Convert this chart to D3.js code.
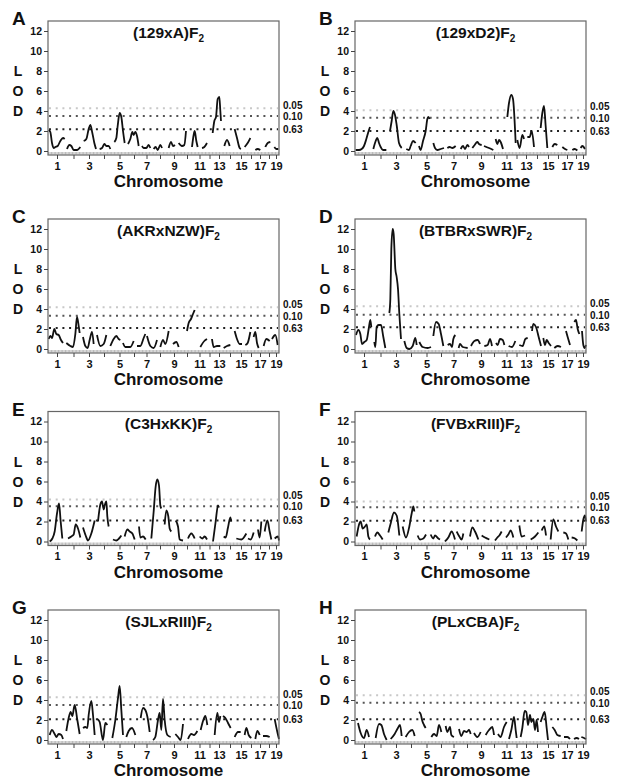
<!DOCTYPE html>
<html>
<head>
<meta charset="utf-8">
<script src="https://cdn.jsdelivr.net/npm/d3@7"></script>
<style>
  body { margin: 0; background: #fff; }
  text { font-family: "Liberation Sans", Arial, sans-serif; font-weight: bold; fill: #111; }
</style>
</head>
<body>
<div id="chart"></div>
<script>
// chromosome names and map lengths (map units)
var chromNames = ["1","2","3","4","5","6","7","8","9","10","11","12","13","14","15","16","17","18","19"];
var chromLengths = [54,45,48,42,51,36,39,42,42,36,39,21,36,30,36,24,30,24,18];

var letters = ["A","B","C","D","E","F","G","H"];
var crosses = ["(129xA)","(129xD2)","(AKRxNZW)","(BTBRxSWR)","(C3HxKK)","(FVBxRIII)","(SJLxRIII)","(PLxCBA)"];
var yTicks = [0,2,4,6,8,10,12];

// genome-wide significance thresholds (LOD) for p = 0.05, 0.10, 0.63
var thr05 = [4.27,4.07,4.17,4.27,4.2,4.0,4.27,4.47];
var thr10 = [3.5,3.33,3.33,3.43,3.53,3.43,3.5,3.73];
var thr63 = [2.17,2.0,2.1,2.17,2.1,2.07,2.07,2.07];

// LOD curves: one array per chromosome segment, [map position, LOD]
var lodA = [
  [[2,2.1],[7,1.9],[12,0.8],[17,0.3],[22,0.4],[29,0.5],[37,1.0],[45,1.3],[50,1.2]],
  [[57,0.2],[64,0.6],[70,0.5],[77,0.1],[87,0.1],[97,0.4]],
  [[107,1.0],[115,1.2],[122,2.2],[127,2.6],[133,1.8],[139,0.8],[144,0.2]],
  [[155,0.2],[162,0.3],[169,0.7],[175,0.5],[182,0.5],[187,0.2]],
  [[199,0.9],[205,1.3],[209,2.5],[215,3.8],[220,3.4],[225,2.0],[230,0.8]],
  [[240,0.7],[247,1.2],[253,1.9],[257,1.6],[262,1.9],[267,1.5],[272,0.5]],
  [[282,0.5],[287,0.3],[295,0.3],[302,0.6],[307,0.3]],
  [[317,0.2],[323,0.4],[329,0.1],[337,0.6],[342,0.3]],
  [[362,0.3],[369,0.9],[375,0.5],[381,0.6]],
  [[392,0.8],[402,0.5],[409,0.6],[414,2.0]],
  [[432,0.4],[437,1.6],[440,2.0],[445,1.0],[449,0.4]],
  [[462,0.3],[469,0.4],[477,0.8]],
  [[494,1.8],[499,3.0],[504,3.4],[509,5.2],[514,5.4],[517,4.0],[519,3.0]],
  [[529,0.5],[537,1.1],[545,0.5]],
  [[560,2.2],[567,1.3],[575,0.3],[579,0.2]],
  [[590,0.4],[599,0.8],[607,1.3]],
  [[622,0.1],[629,0.2],[637,0.1]],
  [[652,0.4],[659,0.8],[667,0.9]],
  [[679,0.4],[685,0.2],[691,0.2]]
];
var lodB = [
  [[2,0.1],[12,0.1],[20,0.2],[27,0.5],[34,1.2],[40,1.9],[45,2.4]],
  [[55,0.2],[60,0.8],[67,1.3],[72,0.8],[77,0.4],[84,0.1],[94,0.1]],
  [[105,2.0],[110,3.0],[115,4.0],[120,3.6],[125,2.6],[132,0.8],[140,0.3]],
  [[154,0.2],[162,0.1],[167,0.5],[174,1.0],[182,0.8]],
  [[192,0.5],[197,0.1],[204,1.0],[212,2.0],[217,3.2],[220,3.4],[224,3.2]],
  [[235,0.8],[240,0.3],[247,0.1],[257,0.2],[267,0.3]],
  [[277,0.3],[284,0.4],[292,0.3],[302,0.5]],
  [[317,0.2],[324,0.5],[330,0.2],[337,0.6],[342,0.4]],
  [[352,0.3],[359,0.6],[367,0.9],[372,0.7],[380,0.6]],
  [[387,0.5],[402,0.3],[415,0.1]],
  [[422,1.2],[427,0.7],[432,1.1],[437,0.9],[444,0.2]],
  [[457,3.4],[462,4.8],[469,5.6],[474,5.2],[482,0.8]],
  [[487,1.1],[494,0.3],[502,1.6],[507,1.2]],
  [[517,1.4],[524,1.4],[530,2.0],[537,0.4]],
  [[557,2.3],[562,3.8],[567,4.5],[572,2.5],[577,0.3]],
  [[592,0.4],[599,0.7],[607,0.6]],
  [[622,0.4],[630,0.2],[637,0.1]],
  [[652,0.1],[659,0.2],[667,0.05]],
  [[677,0.3],[682,0.5],[690,0.2]]
];
var lodC = [
  [[2,1.0],[7,1.3],[12,1.1],[19,2.0],[25,1.5],[32,1.4],[39,0.9],[45,0.6]],
  [[55,0.6],[67,0.3],[75,0.2],[82,1.5],[87,3.2],[92,2.3],[95,1.6]],
  [[105,1.2],[112,0.3],[119,0.1],[125,0.9],[132,1.7],[137,0.5]],
  [[147,1.4],[157,0.3],[167,0.5],[175,1.4]],
  [[187,0.3],[197,1.0],[205,1.3],[212,1.0],[217,0.9]],
  [[225,0.6],[232,0.2],[247,0.2],[257,0.8]],
  [[267,0.3],[277,0.3],[287,1.1],[292,1.5]],
  [[297,1.3],[307,0.3],[317,0.1],[327,0.9]],
  [[337,0.2],[345,0.9],[352,0.5],[362,1.8]],
  [[375,0.5],[385,0.7],[392,0.2]],
  [[417,1.8],[422,2.6],[429,3.0],[435,3.5],[440,3.9]],
  [[457,0.2],[469,0.8],[477,1.0]],
  [[492,1.0],[497,0.2],[507,0.3],[517,0.3]],
  [[527,0.1],[537,0.3],[547,0.4]],
  [[560,1.8],[567,1.0],[575,0.5],[582,0.5]],
  [[592,0.4],[599,0.6],[607,1.7]],
  [[617,1.2],[622,1.7],[627,0.6],[632,0.1]],
  [[647,0.3],[655,1.0],[665,0.8]],
  [[672,1.0],[682,1.4],[689,0.4]]
];
var lodD = [
  [[3,1.4],[10,1.9],[16,1.5],[21,0.5],[28,0.7],[35,0.9],[41,2.0],[46,2.9],[49,2.2]],
  [[58,0.7],[61,0.2],[65,2.2],[71,2.4],[78,2.4],[85,1.2],[91,0.1]],
  [[103,3.6],[106,5.0],[109,10.0],[113,12.0],[116,11.5],[121,8.0],[125,7.2],[129,6.0],[133,3.5],[138,1.0]],
  [[148,0.8],[155,0.1],[163,0.0],[173,0.3],[181,1.1],[185,0.4]],
  [[193,0.7],[203,0.2],[218,0.1],[228,0.2]],
  [[235,1.3],[243,2.7],[251,2.5],[258,1.5],[265,0.3]],
  [[278,0.4],[285,0.5],[291,0.2],[295,1.0],[301,1.4]],
  [[311,0.1],[315,0.5],[323,0.2],[338,0.1]],
  [[348,0.3],[358,0.8],[368,0.9],[375,0.5]],
  [[388,0.3],[398,0.4],[405,1.0],[411,0.3]],
  [[423,0.6],[428,0.4],[435,1.0],[443,0.9],[448,0.4]],
  [[461,0.3],[471,0.2],[481,0.8]],
  [[493,0.4],[503,0.3],[511,1.0],[518,1.1]],
  [[531,1.8],[535,2.5],[543,2.2],[551,1.2],[558,0.3]],
  [[565,1.1],[570,0.4],[575,0.9],[581,0.6],[588,0.3]],
  [[598,0.1],[608,0.3],[618,0.2]],
  [[633,1.8],[638,1.2],[645,0.4]],
  [[658,2.7],[663,2.9],[668,2.0],[673,1.5]],
  [[681,1.8],[685,0.4],[689,0.1],[693,0.4]]
];
var lodE = [
  [[5,0.0],[13,0.3],[20,1.0],[27,2.8],[33,3.8],[38,2.0],[43,0.3]],
  [[60,0.3],[70,0.5],[77,0.7],[83,1.7],[90,1.3],[97,0.4]],
  [[105,1.4],[113,0.6],[120,0.1],[130,0.8],[140,2.1]],
  [[150,2.0],[157,3.7],[162,4.0],[167,3.2],[170,3.6],[175,4.0],[178,2.5],[182,1.5]],
  [[195,0.2],[205,0.1],[213,0.3],[220,0.6]],
  [[230,0.5],[238,1.2],[245,1.0],[253,0.8],[260,0.2]],
  [[273,1.5],[277,0.4],[285,0.5],[293,0.2]],
  [[310,0.3],[317,3.0],[323,5.5],[328,6.2],[333,5.6],[337,3.6],[340,3.3]],
  [[350,1.7],[355,3.1],[361,2.5],[365,1.3],[370,1.0]],
  [[383,2.1],[390,1.5],[395,0.2],[405,0.1]],
  [[420,0.3],[430,0.8],[440,0.3]],
  [[455,0.5],[463,0.3],[470,0.5],[477,0.2]],
  [[495,0.0],[503,2.0],[510,3.6],[513,3.4]],
  [[527,0.5],[533,0.4],[540,1.4],[547,2.4],[550,2.0]],
  [[565,0.3],[580,0.2],[595,0.8]],
  [[600,0.3],[608,0.2],[617,0.9]],
  [[630,1.2],[635,0.4],[640,2.0]],
  [[650,1.0],[658,2.1],[665,1.0],[670,0.2]],
  [[680,0.3],[690,0.5],[693,0.1]]
];
var lodF = [
  [[5,0.5],[13,1.8],[17,2.0],[23,1.3],[30,1.5],[35,1.7],[40,0.5],[45,0.2]],
  [[60,0.5],[67,0.9],[75,0.6],[83,0.2]],
  [[100,0.9],[107,1.8],[117,2.9],[125,2.6],[133,0.6]],
  [[143,1.5],[153,0.4],[163,1.5],[170,2.8],[175,3.5],[178,3.0]],
  [[188,0.6],[195,0.2],[205,0.3],[213,0.7]],
  [[227,0.7],[235,0.3],[240,0.6],[250,0.3],[255,0.2]],
  [[270,0.0],[280,0.4],[290,1.0],[300,0.2]],
  [[305,1.0],[313,0.5],[320,0.2],[325,0.8]],
  [[345,0.5],[352,1.4],[360,1.0],[370,0.2]],
  [[380,0.6],[390,0.4],[403,0.2]],
  [[420,0.1],[427,0.4],[433,0.6],[440,1.0]],
  [[453,0.4],[460,0.7],[467,1.1],[475,0.4]],
  [[493,1.6],[500,0.5],[510,0.6]],
  [[527,0.2],[540,0.5],[550,0.9]],
  [[560,1.1],[568,1.5],[573,0.6]],
  [[587,0.2],[595,2.2],[603,1.5],[610,1.0]],
  [[625,0.9],[633,0.8],[640,0.2]],
  [[650,0.4],[660,0.3],[667,0.1]],
  [[680,1.0],[685,2.2],[690,2.6],[693,2.0]]
];
var lodG = [
  [[5,0.5],[12,1.0],[20,0.6],[25,0.3],[32,0.6],[40,0.5],[45,0.1]],
  [[55,0.9],[62,2.2],[68,2.8],[73,2.4],[80,3.5],[88,2.0],[95,0.6]],
  [[105,1.2],[112,1.3],[118,1.2],[122,2.5],[130,3.9],[135,2.5],[140,0.5]],
  [[148,2.1],[155,1.8],[165,0.0],[172,1.7],[178,1.5]],
  [[193,0.2],[202,2.0],[210,4.2],[215,5.4],[220,3.0],[225,0.5]],
  [[235,0.3],[242,0.9],[252,1.2],[262,0.5]],
  [[278,2.2],[285,3.2],[292,3.0],[300,2.0],[305,0.8]],
  [[315,0.0],[322,0.3],[330,2.0],[335,2.7],[340,1.0],[345,4.1],[350,2.0],[358,0.5],[368,0.3]],
  [[382,0.6],[390,0.3],[398,0.0],[405,1.6]],
  [[420,0.1],[430,0.6],[438,0.5],[448,0.9]],
  [[458,1.0],[465,1.9],[472,2.4],[478,1.5]],
  [[500,0.5],[508,2.7],[513,1.8],[517,2.4]],
  [[525,2.4],[532,2.2],[540,1.7],[548,1.2]],
  [[560,0.3],[570,0.8],[578,0.8]],
  [[590,0.5],[595,1.2],[602,0.5],[610,0.2]],
  [[622,0.1],[628,0.9],[635,0.5]],
  [[645,0.4],[655,0.4],[665,0.3]],
  [[680,2.1],[688,0.8],[693,0.1]]
];
var lodH = [
  [[9,1.7],[17,0.7],[27,0.2],[35,1.0],[42,0.3]],
  [[62,0.2],[72,1.6],[79,1.5],[87,0.6],[95,0.0]],
  [[107,0.1],[119,0.6],[127,1.1],[135,1.5],[140,0.4]],
  [[152,0.3],[162,0.8],[172,1.0],[179,0.4]],
  [[192,2.8],[197,2.6],[202,1.9],[207,1.5],[212,1.2]],
  [[229,0.3],[237,0.6],[245,0.4],[252,1.5],[259,0.8]],
  [[272,1.4],[277,0.8],[285,1.3],[289,0.5],[297,0.3]],
  [[312,1.1],[319,0.4],[327,0.9],[335,0.8],[342,1.0],[347,0.6]],
  [[357,0.7],[367,0.3],[377,0.8]],
  [[392,0.5],[402,1.0],[412,1.3],[417,0.5]],
  [[429,0.6],[437,0.3],[447,1.3],[455,1.8]],
  [[462,0.1],[469,1.0],[477,2.3],[482,1.0],[485,0.2]],
  [[497,0.3],[502,1.2],[509,2.9],[514,2.8],[519,1.5],[525,2.5],[529,1.8],[535,2.1],[540,1.0],[545,2.0],[549,0.8]],
  [[557,1.8],[562,2.3],[569,2.8],[575,1.2],[579,0.0]],
  [[592,1.3],[599,1.0],[607,0.5],[617,0.4]],
  [[627,0.3],[637,0.3],[645,0.1]],
  [[657,0.1],[665,0.2],[672,0.1]],
  [[679,0.3],[687,0.2],[693,0.1]]
];
var panels = [lodA, lodB, lodC, lodD, lodE, lodF, lodG, lodH];

// layout
var svgWidth = 617, svgHeight = 781;
var colLeft = [48, 355];
var rowZero = [151, 349, 541.5, 740];   // pixel row of LOD = 0
var plotW = 231, plotH = 134;

var svg = d3.select("#chart").append("svg")
  .attr("width", svgWidth)
  .attr("height", svgHeight);

var starts = d3.cumsum([0].concat(chromLengths));
var total = starts[starts.length - 1];
var centers = chromLengths.map(function(l, i) { return starts[i] + l / 2; });

var x = d3.scaleLinear().domain([0, total]).range([0, plotW]);
var y = d3.scaleLinear().domain([-0.4, 13]).range([plotH, 0]);

var line = d3.line()
  .x(function(d) { return x(d[0]); })
  .y(function(d) { return y(d[1]); })
  .curve(d3.curveMonotoneX);

panels.forEach(function(segs, i) {
  var col = i % 2, row = Math.floor(i / 2);
  var g = svg.append("g")
    .attr("transform", "translate(" + colLeft[col] + "," + (rowZero[row] - y(0)) + ")");

  // threshold lines
  var thr = [
    {v: thr05[i], label: "0.05", color: "#c8c8c8"},
    {v: thr10[i], label: "0.10", color: "#555"},
    {v: thr63[i], label: "0.63", color: "#222"}
  ];
  thr.forEach(function(t) {
    g.append("line")
      .attr("x1", 1).attr("x2", plotW - 1)
      .attr("y1", y(t.v)).attr("y2", y(t.v))
      .attr("stroke", t.color)
      .attr("stroke-width", 2)
      .attr("stroke-dasharray", "2,4.7");
  });
  var ly10 = y(thr[1].v) + 0.5;
  var ly05 = Math.min(y(thr[0].v), ly10 - 11.5);
  var ly63 = Math.max(y(thr[2].v), ly10 + 12);
  [ly05, ly10, ly63].forEach(function(ly, k) {
    g.append("text")
      .attr("x", plotW + 4)
      .attr("y", ly)
      .attr("dy", "0.35em")
      .style("font-size", "10px")
      .text(thr[k].label);
  });

  // marker comb along the bottom
  g.selectAll(".comb")
    .data(d3.range(2, total, 4.2))
    .enter().append("line")
    .attr("x1", function(d) { return x(d); })
    .attr("x2", function(d) { return x(d); })
    .attr("y1", plotH - 0.5)
    .attr("y2", plotH - 3)
    .attr("stroke", "#999")
    .attr("stroke-width", 0.7);

  // LOD curves
  segs.forEach(function(s) {
    g.append("path")
      .attr("d", line(s))
      .attr("fill", "none")
      .attr("stroke", "#111")
      .attr("stroke-width", 1.8);
  });

  // frame
  g.append("rect")
    .attr("width", plotW).attr("height", plotH)
    .attr("fill", "none")
    .attr("stroke", "#666")
    .attr("stroke-width", 1.2);

  // axes
  var xAxis = d3.axisBottom(x)
    .tickValues(centers)
    .tickSize(4)
    .tickPadding(3)
    .tickFormat(function(d, k) { return k % 2 === 0 ? chromNames[k] : ""; });
  var xg = g.append("g").attr("transform", "translate(0," + plotH + ")").call(xAxis);
  xg.select(".domain").remove();
  xg.selectAll("line").attr("stroke", "#444");
  xg.selectAll("text").style("font-size", "11px").attr("fill", "#111");

  var yAxis = d3.axisLeft(y).tickValues(yTicks).tickSize(4).tickPadding(2);
  var yg = g.append("g").call(yAxis);
  yg.select(".domain").remove();
  yg.selectAll("line").attr("stroke", "#444");
  yg.selectAll("text").style("font-size", "10.5px").attr("fill", "#111");

  // LOD letters
  ["L", "O", "D"].forEach(function(c, k) {
    g.append("text")
      .attr("x", -30)
      .attr("y", y(8 - 2 * k))
      .attr("dy", "0.36em")
      .attr("text-anchor", "middle")
      .style("font-size", "14px")
      .text(c);
  });

  // panel letter
  g.append("text")
    .attr("x", -36).attr("y", 4)
    .style("font-size", "19px")
    .text(letters[i]);

  // title
  var title = g.append("text")
    .attr("x", plotW / 2 + 5).attr("y", 17)
    .attr("text-anchor", "middle")
    .style("font-size", "15.5px");
  title.append("tspan").text(crosses[i] + "F");
  title.append("tspan").attr("dy", 4).style("font-size", "10px").text("2");

  g.append("text")
    .attr("x", plotW / 2 + 5).attr("y", plotH + 32)
    .attr("text-anchor", "middle")
    .style("font-size", "17px")
    .text("Chromosome");
});
</script>
</body>
</html>
